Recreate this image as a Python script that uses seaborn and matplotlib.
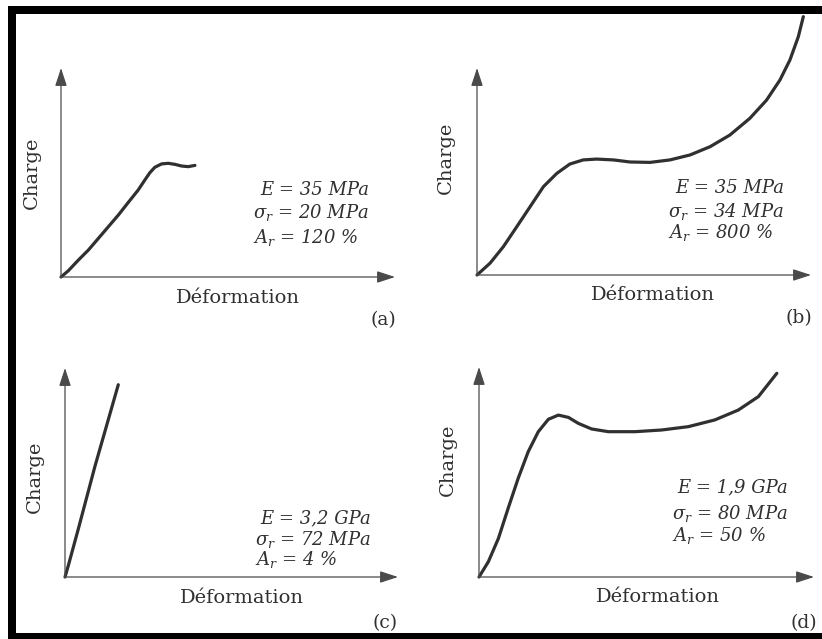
import seaborn as sns
import matplotlib.pyplot as plt
from matplotlib.patches import Rectangle

W, H = 822, 639

# courbes : deformation et charge en % de la longueur des axes
def_a = [0, 2.2, 5.2, 8.2, 11.2, 14.2, 17.2, 20.1, 23.1, 25.1, 26.6, 28.1, 30.1, 32.1, 34.1, 36.1, 38.1, 40.1]
charge_a = [0, 3.0, 8.1, 12.9, 18.5, 24.1, 29.7, 35.6, 41.6, 46.4, 49.9, 52.5, 54.1, 54.4, 53.9, 53.1, 52.8, 53.4]

def_b = [0, 3.9, 7.9, 11.9, 15.9, 19.9, 23.9, 27.8, 31.8, 35.8, 40.8, 45.8, 51.8, 57.8, 63.8,
         69.8, 75.7, 81.7, 86.7, 90.7, 93.7, 96.2, 97.7]
charge_b = [0, 5.7, 13.7, 23.3, 33.0, 42.7, 49.1, 53.6, 55.6, 56.0, 55.6, 54.6, 54.4, 55.6, 58.0,
            62.0, 67.6, 75.7, 84.5, 94.2, 103.9, 115.1, 124.8]

def_c = [0, 1, 4, 9, 16]
charge_c = [0, 5.5, 23, 53, 92]

def_d = [0, 2.8, 5.8, 8.7, 11.7, 14.7, 17.7, 20.7, 23.7, 26.7, 29.6, 33.6, 38.6, 46.6, 54.5,
         62.5, 70.4, 77.4, 83.4, 88.9]
charge_d = [0, 7.3, 18.4, 32.7, 47.0, 59.7, 69.2, 75.1, 77.1, 76.0, 73.2, 70.5, 69.2, 69.2, 70.0,
            71.6, 74.8, 79.5, 85.9, 97.0]

lettres = ["(a)", "(b)", "(c)", "(d)"]
val_E = ["E = 35 MPa", "E = 35 MPa", "E = 3,2 GPa", "E = 1,9 GPa"]
val_sigma = ["20 MPa", "34 MPa", "72 MPa", "80 MPa"]
val_A = ["120 %", "800 %", "4 %", "50 %"]

courbes = [(def_a, charge_a), (def_b, charge_b), (def_c, charge_c), (def_d, charge_d)]

sns.set_theme(style="white")
plt.rcParams['font.family'] = ['DejaVu Serif']
plt.rcParams['mathtext.fontset'] = 'custom'
plt.rcParams['mathtext.it'] = 'DejaVu Serif:italic'
plt.rcParams['mathtext.rm'] = 'DejaVu Serif:italic'

ink = '#303030'


def fx(x):
    return x / W


def fy(y):
    return 1 - y / H


fig = plt.figure(figsize=(8.22, 6.39), dpi=100)

# origine x, origine y, bout fleche x, haut fleche y (pixels)
cadres = [(61, 277, 395, 68), (477, 275, 811, 68), (65, 577, 398, 368), (479, 577, 814, 367)]
pos_charge = [(32, 173), (446, 158), (35, 477), (448, 460)]
pos_def = [(238, 298), (653, 295), (242, 598), (658, 597)]
pos_lettre = [(383, 320), (799, 318), (385, 623), (804, 623)]
pos_val = [(369, [190, 213, 237]), (784, [188, 211, 233]), (371, [518, 539, 560]), (788, [487, 513, 535])]

for i, (ox, oy, tx, ty) in enumerate(cadres):
    ax = fig.add_axes([fx(ox), fy(oy), (tx - ox) / W, (oy - ty) / H])
    ax.set_xlim(0, 100)
    ax.set_ylim(0, 100)
    ax.axis('off')
    x, y = courbes[i]
    sns.lineplot(x=x, y=y, ax=ax, sort=False, color=ink, lw=2.3,
                 clip_on=False, solid_capstyle='round', solid_joinstyle='round')
    fleche = dict(arrowstyle='-|>,head_length=1.1,head_width=0.36', mutation_scale=10,
                  lw=0.9, color='#4a4a4a', shrinkA=0, shrinkB=0)
    ax.annotate('', xy=(100, 0), xytext=(0, 0), arrowprops=fleche, annotation_clip=False)
    ax.annotate('', xy=(0, 100), xytext=(0, 0), arrowprops=fleche, annotation_clip=False)

    cx, cy = pos_charge[i]
    fig.text(fx(cx), fy(cy), "Charge", rotation=90, ha='center', va='center', fontsize=14, color=ink)
    dx, dy = pos_def[i]
    fig.text(fx(dx), fy(dy), "Déformation", ha='center', va='center', fontsize=14, color=ink)
    lx, ly = pos_lettre[i]
    fig.text(fx(lx), fy(ly), lettres[i], ha='center', va='center', fontsize=13.5, color=ink)

    xr, ys = pos_val[i]
    fig.text(fx(xr), fy(ys[0]), val_E[i], ha='right', va='center', fontsize=13,
             style='italic', color=ink)
    t2 = fig.text(fx(xr), fy(ys[1]), r"$\sigma_r$ = " + val_sigma[i], ha='right', va='center',
                  fontsize=13, style='italic', color=ink)
    fig.canvas.draw()
    bb = t2.get_window_extent()
    fig.text(bb.x0 / W, fy(ys[2]), r"$A_r$ = " + val_A[i], ha='left', va='center',
             fontsize=13, style='italic', color=ink)

# cadre noir
for (x0, y0, x1, y1) in [(8, 6, 16, 639), (8, 6, 822, 14), (8, 633, 822, 639)]:
    fig.add_artist(Rectangle((fx(x0), fy(y1)), (x1 - x0) / W, (y1 - y0) / H,
                             transform=fig.transFigure, color='black', lw=0))

fig.savefig("out.png", dpi=100)
